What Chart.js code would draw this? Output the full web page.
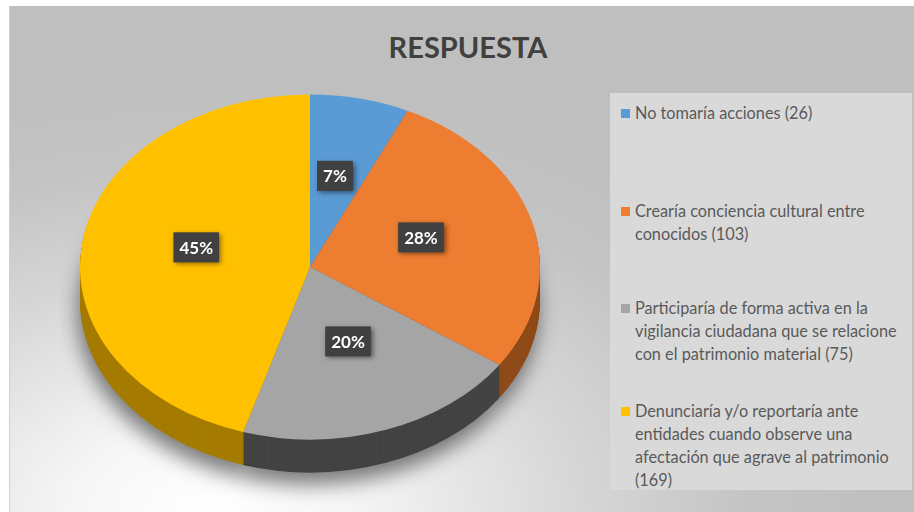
<!DOCTYPE html>
<html>
<head>
<meta charset="utf-8">
<script src="https://cdn.jsdelivr.net/npm/chart.js@4/dist/chart.umd.min.js"></script>
<style>
  html, body { margin: 0; padding: 0; background: #ffffff; }
  #wrap { position: relative; width: 914px; height: 512px; overflow: hidden; background: #ffffff; }
  #bg { position: absolute; left: 9px; top: 6px; width: 905px; height: 506px;
        background: radial-gradient(ellipse 75% 85% at 22% 100%, #ffffff 0%, #f6f6f6 20%, #d6d6d6 55%, #c4c4c4 80%, #bfbfbf 100%);
        border-left: 1px solid #d0d0d0; }
  #title { position: absolute; left: 0; width: 936px; top: 29px; text-align: center;
           font-family: Lato, "Open Sans", sans-serif; font-weight: bold; font-size: 29px;
           color: #404040; line-height: 36px; }
  #legendPanel { position: absolute; left: 610px; top: 93px; width: 302px; height: 397px; background: #d9d9d9; }
  .item { position: absolute; left: 621px; font-family: Lato, "Open Sans", sans-serif; font-size: 16.3px;
          color: #595959; line-height: 23px; }
  .item .mk { position: absolute; left: 0; top: 8px; width: 9px; height: 9px; }
  .item .tx { margin-left: 14px; white-space: nowrap; }
  #c { position: absolute; left: 60px; top: 17px; }
</style>
</head>
<body>
<div id="wrap">
  <div id="bg"></div>
  <div id="title"></div>
  <div id="legendPanel"></div>
  <div id="legend"></div>
  <canvas id="c" width="500" height="500"></canvas>
</div>
<script>
// ---- data ----
const chartTitle = "RESPUESTA";
const categories = [
  ["No tomaría acciones"],
  ["Crearía conciencia cultural entre", "conocidos"],
  ["Participaría de forma activa en la", "vigilancia ciudadana que se relacione", "con el patrimonio material"],
  ["Denunciaría y/o reportaría ante", "entidades cuando observe una", "afectación que agrave al patrimonio", ""]
];
const values = [26, 103, 75, 169];
const topColors = ["#5b9bd5", "#ed7d31", "#a5a5a5", "#ffc000"];
const sideColors = ["#3f70a6", "#8e4a18", "#434343", "#a57b00"];

// ---- layout constants ----
const SQUASH = 0.75;
const DEPTH = 33;
const LABEL_LIFT = 7;
const legendTops = [101, 199, 296, 399];

document.getElementById('title').textContent = chartTitle;

// legend (HTML text)
const legendEl = document.getElementById('legend');
categories.forEach((lines, i) => {
  const div = document.createElement('div');
  div.className = 'item';
  div.style.top = legendTops[i] + 'px';
  const mk = document.createElement('div');
  mk.className = 'mk';
  mk.style.background = topColors[i];
  div.appendChild(mk);
  const tx = document.createElement('div');
  tx.className = 'tx';
  const ls = lines.slice();
  if (ls[ls.length - 1] === "") ls[ls.length - 1] = "(" + values[i] + ")";
  else ls[ls.length - 1] = ls[ls.length - 1] + " (" + values[i] + ")";
  tx.innerHTML = ls.map(s => s.replace(/&/g, '&amp;').replace(/</g, '&lt;')).join('<br>');
  div.appendChild(tx);
  legendEl.appendChild(div);
});

function squash(ctx, cx, cy) {
  ctx.translate(cx, cy);
  ctx.scale(1, SQUASH);
  ctx.translate(-cx, -cy);
}

const pie3d = {
  id: 'pie3d',
  beforeDatasetsDraw(chart) {
    const ctx = chart.ctx;
    const meta = chart.getDatasetMeta(0);
    const a0 = meta.data[0];
    const cx = a0.x, cy = a0.y;
    for (let d = DEPTH; d >= 1; d--) {
      ctx.save();
      if (d === DEPTH) {
        ctx.shadowColor = 'rgba(0,0,0,0.5)';
        ctx.shadowBlur = 20;
        ctx.shadowOffsetY = 12;
        ctx.shadowOffsetX = -2;
      }
      ctx.translate(0, d);
      squash(ctx, cx, cy);
      meta.data.forEach((el, i) => {
        const orig = el.options;
        el.options = Object.assign({}, orig, { backgroundColor: sideColors[i], borderWidth: 0 });
        el.draw(ctx);
        el.options = orig;
      });
      ctx.restore();
    }
    ctx.save();
    squash(ctx, cx, cy);
  },
  afterDatasetsDraw(chart) {
    const ctx = chart.ctx;
    ctx.restore();
    const meta = chart.getDatasetMeta(0);
    const total = values.reduce((a, b) => a + b, 0);
    const cx = meta.data[0].x, cy = meta.data[0].y;
    ctx.save();
    ctx.font = 'bold 17px Lato, "Open Sans", sans-serif';
    ctx.textAlign = 'center';
    ctx.textBaseline = 'middle';
    meta.data.forEach((el, i) => {
      const p = el.tooltipPosition();
      const x = p.x;
      const y = cy + (p.y - cy) * SQUASH - LABEL_LIFT;
      const txt = Math.round(values[i] / total * 100) + '%';
      const w = ctx.measureText(txt).width + 12;
      const h = 30;
      ctx.save();
      ctx.shadowColor = 'rgba(0,0,0,0.5)';
      ctx.shadowBlur = 5;
      ctx.shadowOffsetX = 2;
      ctx.shadowOffsetY = 2;
      ctx.fillStyle = '#404040';
      ctx.fillRect(x - w / 2, y - h / 2, w, h);
      ctx.restore();
      ctx.fillStyle = '#ffffff';
      ctx.fillText(txt, x, y + 1);
    });
    ctx.restore();
  }
};

new Chart(document.getElementById('c'), {
  type: 'pie',
  data: {
    labels: categories.map(l => l.filter(s => s).join(' ')),
    datasets: [{
      data: values,
      backgroundColor: topColors,
      borderWidth: 0
    }]
  },
  options: {
    responsive: false,
    animation: false,
    rotation: 0,
    layout: { padding: 20 },
    plugins: {
      legend: { display: false },
      tooltip: { enabled: false },
      title: { display: false }
    }
  },
  plugins: [pie3d]
});
</script>
</body>
</html>
